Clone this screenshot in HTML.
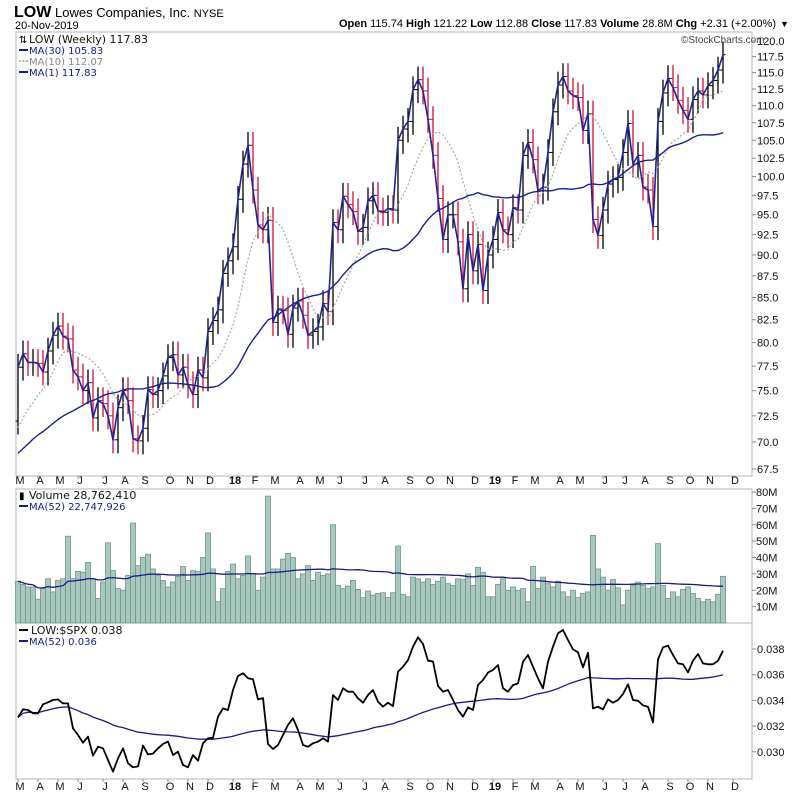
<!DOCTYPE html>
<html><head><meta charset="utf-8"><style>
body{margin:0;background:#fff;}
svg{display:block;font-family:"Liberation Sans",sans-serif;}
.ax{font-size:11px;fill:#111;}
.lg{font-family:"DejaVu Sans",sans-serif;font-size:11px;}
</style></head><body>
<svg id="c" width="800" height="795" viewBox="0 0 800 795">
<text x="14" y="17" font-size="16" font-weight="bold">LOW</text>
<text x="55" y="17" font-size="13">Lowes Companies, Inc. <tspan font-size="11">NYSE</tspan></text>
<text x="15" y="29" font-size="11">20-Nov-2019</text>
<text x="776" y="27" font-size="11" text-anchor="end"><tspan font-weight="bold">Open</tspan> 115.74 <tspan font-weight="bold">High</tspan> 121.22 <tspan font-weight="bold">Low</tspan> 112.88 <tspan font-weight="bold">Close</tspan> 117.83 <tspan font-weight="bold">Volume</tspan> 28.8M <tspan font-weight="bold">Chg</tspan> +2.31 (+2.00%)</text>
<text x="780" y="27" font-size="9">▼</text>
<rect x="16" y="32" width="736" height="444" fill="none" stroke="#b5b5b5"/>
<rect x="16" y="489" width="736" height="134" fill="none" stroke="#b5b5b5"/>
<rect x="16" y="623" width="736" height="156" fill="none" stroke="#b5b5b5"/>
<text x="681" y="43" font-size="10" fill="#444">©StockCharts.com</text>
<g id="price"></g>
<g id="vol"></g>
<g id="ratio"></g>
<g id="axes"></g>
<g class="lg">
<rect x="17" y="33" width="128" height="42" fill="#fff" opacity="0.8"/>
<text x="19" y="43" font-size="10">⇅</text><text x="29" y="43" fill="#111">LOW (Weekly) 117.83</text>
<line x1="19" y1="50" x2="28" y2="50" stroke="#1a1a8c" stroke-width="2"/><text x="29" y="54" fill="#1a1a8c" font-size="10">MA(30) 105.83</text>
<line x1="19" y1="61" x2="28" y2="61" stroke="#999" stroke-width="1.5" stroke-dasharray="2,1.5"/><text x="29" y="65" fill="#888" font-size="10">MA(10) 112.07</text>
<line x1="19" y1="72" x2="28" y2="72" stroke="#1a1a8c" stroke-width="2"/><text x="29" y="76" fill="#1a1a8c" font-size="10">MA(1) 117.83</text>
</g>
<g class="lg">
<text x="19" y="499" font-size="10">▮</text><text x="29" y="499" fill="#111">Volume 28,762,410</text>
<line x1="19" y1="506" x2="28" y2="506" stroke="#1a1a8c" stroke-width="2"/><text x="29" y="510" fill="#1a1a8c" font-size="10">MA(52) 22,747,926</text>
</g>
<g class="lg">
<line x1="19" y1="630" x2="28" y2="630" stroke="#000" stroke-width="2"/><text x="31" y="634" fill="#111">LOW:$SPX 0.038</text>
<line x1="19" y1="641" x2="28" y2="641" stroke="#1a1a8c" stroke-width="2"/><text x="29" y="645" fill="#1a1a8c" font-size="10">MA(52) 0.036</text>
</g>
</svg>
<script>
const priorCloses=[66,65,64,66,67,68,69,70,71,72,70,68,67,66,68,67,66,67,68,70,69,70,71,70,71,72,71,70,72];
const closes=[77.4,78.8,77.9,77.9,77.8,76.9,79.1,80.8,81.8,80.7,80.4,77.1,76.4,75.0,75.8,72.3,74.0,73.7,72.5,70.2,73.3,75.0,74.0,70.3,70.1,71.3,75.1,74.6,75.0,76.5,78.4,78.7,76.6,77.4,75.6,74.6,77.1,76.3,81.2,82.4,83.6,87.8,89.3,91.0,97.0,101.7,104.3,98.2,93.7,93.1,94.3,82.2,83.7,83.5,80.9,83.8,84.6,83.0,80.8,81.2,81.7,84.3,83.4,94.0,93.1,97.4,96.3,95.4,92.9,93.4,96.8,97.5,95.5,95.3,95.8,95.6,105.0,106.6,107.7,112.4,113.9,112.2,108.0,102.9,97.1,91.9,95.0,95.0,91.6,86.0,92.5,88.1,91.3,85.8,90.0,91.9,95.3,93.1,92.5,95.9,95.6,102.9,104.7,102.3,98.1,98.6,103.3,109.1,113.1,114.4,112.2,111.5,111.2,106.4,108.8,94.4,92.4,95.6,99.0,99.6,99.9,103.3,107.4,101.7,102.9,98.6,98.2,93.5,107.7,111.9,114.1,112.7,110.8,109.3,108.0,110.9,112.2,111.6,113.0,113.8,115.4,117.8];
const volumes=[25.5,23.5,22,22,14.5,21,27,19,26,27,53,27,31.5,31,37,27,15,25,49,32,21,20,29,61,35,40,42,33,29,26,22,25,28.5,34.5,26,32,31.5,40,55,33,13,21,31.5,36,27,29,41,30,20,28,77.5,33,33,39,42.5,40,27,30,35,26,31,29,30,60,23,21,22.5,26,20.5,15.5,19.5,17,18,18.5,15.5,18.5,47,17.5,16,28,27,25,27,23.5,25.5,28,24,23,27,26.5,30,23,34,31,16,16,23.5,27,20,22,20,21,13,34.5,21,28,24,22,25.5,19,16,20,15.5,18,19,53.5,33,28,20,26.5,21.5,11,20,23,25,23,21,22,48.5,23,15,19,16,20.5,22,18,15,13,14.5,13,17.5,28.5];
const ratios=[.03268,.03331,.03325,.03300,.03300,.03370,.03385,.03403,.03408,.03377,.03377,.03183,.03131,.03071,.03118,.02970,.03040,.03027,.02936,.02845,.02949,.03027,.02911,.02879,.02886,.03048,.02980,.02986,.03027,.03061,.03079,.02975,.03001,.02897,.02879,.02975,.02931,.03066,.03105,.03110,.03273,.03338,.03325,.03481,.03590,.03611,.03572,.03564,.03408,.03418,.03061,.03022,.03053,.03131,.03209,.03261,.03170,.03053,.03040,.03066,.03079,.03105,.03079,.03442,.03403,.03494,.03468,.03468,.03416,.03382,.03442,.03481,.03390,.03351,.03382,.03356,.03623,.03662,.03714,.03818,.03891,.03839,.03709,.03703,.03512,.03468,.03481,.03403,.03325,.03273,.03346,.03325,.03520,.03559,.03616,.03637,.03675,.03494,.03468,.03519,.03532,.03701,.03753,.03662,.03571,.03494,.03701,.03818,.03922,.03948,.03870,.03797,.03774,.03657,.03771,.03338,.03351,.03330,.03408,.03382,.03403,.03449,.03525,.03403,.03397,.03361,.03351,.03229,.03719,.03813,.03826,.03753,.03688,.03681,.03618,.03709,.03761,.03688,.03681,.03681,.03709,.03787];
const monthLabels=["M","A","M","J","J","A","S","O","N","D","18","F","M","A","M","J","J","A","S","O","N","D","19","F","M","A","M","J","J","A","S","O","N","D"];
const monthWeeks=[0,4,8,12,17,21,25,30,34,38,43,47,51,56,60,64,69,73,78,82,86,91,95,99,103,108,112,117,121,125,130,134,138,143];
const priceTicks=[120,117.5,115,112.5,110,107.5,105,102.5,100,97.5,95,92.5,90,87.5,85,82.5,80,77.5,75,72.5,70,67.5];
const volTicks=[10,20,30,40,50,60,70,80];
const ratioTicks=[0.030,0.032,0.034,0.036,0.038];

const NS="http://www.w3.org/2000/svg";
const X=k=>18+5*k;
const PY=p=>469-744*Math.log(p/67.5);
const VY=v=>623-v*1.6375;
const RY=r=>649+(0.038-r)*12850;
function mk(tag,attrs,parent){const e=document.createElementNS(NS,tag);for(const a in attrs)e.setAttribute(a,attrs[a]);parent.appendChild(e);return e;}
const gP=document.getElementById('price'),gV=document.getElementById('vol'),gR=document.getElementById('ratio'),gA=document.getElementById('axes');
const all=priorCloses.concat(closes);
function ma(arr,n,i){let s=0,c=0;for(let j=Math.max(0,i-n+1);j<=i;j++){s+=arr[j];c++;}return s/c;}
const np=priorCloses.length;
let p30="",p10="",p1="";
closes.forEach((c,k)=>{const i=np+k;
 p30+=(k?"L":"M")+X(k)+","+PY(ma(all,30,i)).toFixed(1);
 p10+=(k?"L":"M")+X(k)+","+PY(ma(all,10,i)).toFixed(1);
 p1+=(k?"L":"M")+X(k)+","+PY(c).toFixed(1);});
closes.forEach((c,k)=>{const o=k?closes[k-1]:priorCloses[np-1];
 const hi=Math.max(o,c)*1.018,lo=Math.min(o,c)*0.982;
 const col=c<o?"#d0103a":"#000";
 const g=mk('g',{},gP);
 
 
 mk('line',{x1:X(k),x2:X(k),y1:PY(hi),y2:PY(lo),stroke:col,'stroke-width':1.3},g);
 mk('line',{x1:X(k)-2.5,x2:X(k),y1:PY(o),y2:PY(o),stroke:col,'stroke-width':1},g);
 mk('line',{x1:X(k),x2:X(k)+2.5,y1:PY(c),y2:PY(c),stroke:col,'stroke-width':1},g);});
const l10=mk('path',{d:p10,fill:'none',stroke:'#a8a8a8','stroke-width':1.2,'stroke-dasharray':'2,2'},gP);


const l30=mk('path',{d:p30,fill:'none',stroke:'#1e1e96','stroke-width':1.4},gP);


const l1=mk('path',{d:p1,fill:'none',stroke:'#22229a','stroke-width':1.6,'stroke-linejoin':'round'},gP);


let vm="";
volumes.forEach((v,k)=>{const r=mk('rect',{x:X(k)-2.5,y:VY(v),width:5,height:623-VY(v),fill:'#a9c8bd',stroke:'#6f9488','stroke-width':0.8},gV);
 
 
 vm+=(k?"L":"M")+X(k)+","+VY(ma(volumes,52,k)).toFixed(1);});
const vl=mk('path',{d:vm,fill:'none',stroke:'#1a1a8c','stroke-width':1.3},gV);


let rp="",rm="";
ratios.forEach((r,k)=>{rp+=(k?"L":"M")+X(k)+","+RY(r).toFixed(1);rm+=(k?"L":"M")+X(k)+","+RY(ma(ratios,52,k)).toFixed(1);});
const rml=mk('path',{d:rm,fill:'none',stroke:'#1a1a8c','stroke-width':1.3},gR);


const rl=mk('path',{d:rp,fill:'none',stroke:'#000','stroke-width':1.8,'stroke-linejoin':'round'},gR);


priceTicks.forEach(t=>{const y=PY(t);mk('line',{x1:752,x2:756,y1:y,y2:y,stroke:'#888'},gA);
 const tx=mk('text',{x:757,y:y+4,class:'ax'},gA);tx.textContent=t.toFixed(1);
 
 });
volTicks.forEach(t=>{const y=VY(t);mk('line',{x1:752,x2:756,y1:y,y2:y,stroke:'#888'},gA);
 const tx=mk('text',{x:756,y:y+4,class:'ax'},gA);tx.textContent=t+"M";
 
 });
ratioTicks.forEach(t=>{const y=RY(t);mk('line',{x1:752,x2:756,y1:y,y2:y,stroke:'#888'},gA);
 const tx=mk('text',{x:757,y:y+4,class:'ax'},gA);tx.textContent=t.toFixed(3);
 
 });
monthLabels.forEach((m,i)=>{const x=X(monthWeeks[i]);
 [476,779].forEach(y0=>{mk('line',{x1:x,x2:x,y1:y0,y2:y0+3,stroke:'#888'},gA);});
 [[484,true],[790,false]].forEach(([y,top])=>{const tx=mk('text',{x:x+2,y:y,class:'ax','text-anchor':'middle','font-weight':/\d/.test(m)?'bold':'normal'},gA);tx.textContent=m;
 
 });});
</script>
</body></html>
